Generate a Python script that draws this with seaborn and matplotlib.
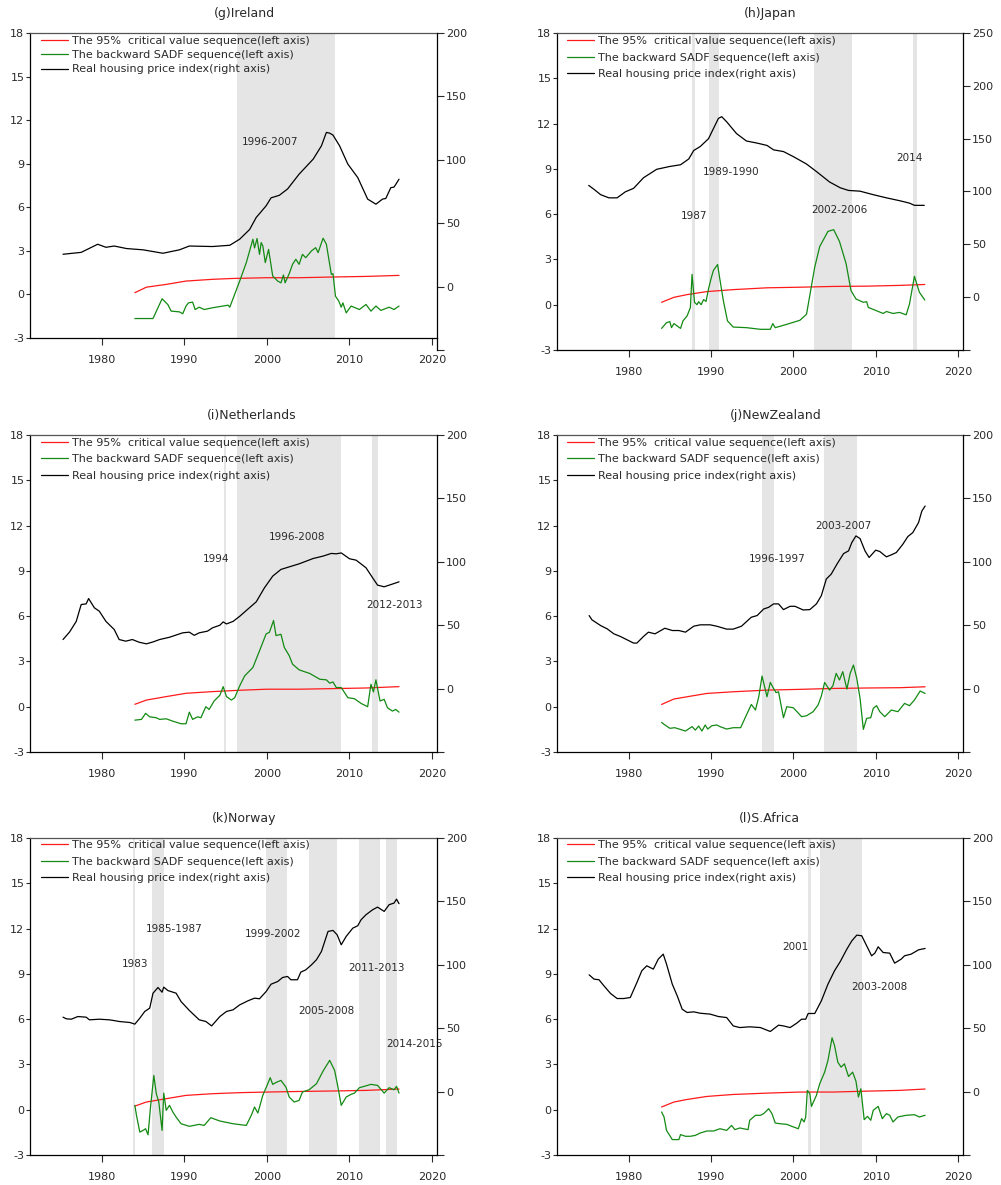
import matplotlib
matplotlib.use("Agg")
import matplotlib.pyplot as plt
from matplotlib.lines import Line2D
import seaborn as sns

sns.set_theme(style="white")
plt.rcParams['font.family'] = ['DejaVu Sans']

# ---------------- DATA ----------------
legend_labels = ["The 95%  critical value sequence(left axis)",
                 "The backward SADF sequence(left axis)",
                 "Real housing price index(right axis)"]
left_ticks = [-3, 0, 3, 6, 9, 12, 15, 18]
x_ticks = [1980, 1990, 2000, 2010, 2020]

# (g) Ireland
ie_hpi_year = [1975.3, 1977.5, 1979.5, 1980.5, 1981.5, 1983.0, 1985.0, 1987.4, 1989.4, 1990.6, 1993.4, 1995.5,
               1996.7, 1997.9, 1998.7, 1999.9, 2000.5, 2001.5, 2002.5, 2003.9, 2005.6, 2006.6, 2007.2, 2007.6,
               2008.0, 2008.8, 2009.8, 2011.0, 2012.2, 2013.2, 2014.0, 2014.4, 2015.0, 2015.4, 2016.0]
ie_hpi = [25.5, 27, 33.4, 31, 32, 30, 29, 26.3, 29, 32, 31.6, 32.6,
          37.4, 45, 54.5, 63.7, 70, 72, 77, 88.7, 100.5, 111, 121.6, 121.0,
          119.5, 111, 96.6, 86, 69, 65, 69, 69.5, 78, 78.5, 84.7]
ie_sadf_year = [1984.0, 1986.2, 1987.3, 1988.0, 1988.4, 1989.4, 1989.8, 1990.2, 1990.5, 1991.0, 1991.3, 1991.8,
                1992.4, 1993.4, 1995.3, 1995.5, 1996.7, 1997.5, 1998.3, 1998.5, 1998.8, 1999.1, 1999.3, 1999.5,
                1999.8, 2000.2, 2000.7, 2001.3, 2001.7, 2002.0, 2002.2, 2002.7, 2003.1, 2003.5, 2003.9, 2004.3,
                2004.7, 2005.4, 2005.9, 2006.2, 2006.8, 2007.2, 2007.8, 2008.0, 2008.3, 2008.7, 2009.0, 2009.2,
                2009.6, 2010.2, 2011.2, 2012.0, 2012.6, 2013.2, 2013.8, 2014.8, 2015.4, 2016.0]
ie_sadf = [-1.66, -1.66, -0.3, -0.7, -1.15, -1.2, -1.33, -0.8, -0.58, -0.53, -1.04, -0.88,
           -1.04, -0.92, -0.74, -0.88, 0.92, 2.19, 3.8, 3.2, 3.85, 2.76, 3.57, 3.34,
           2.19, 3.1, 1.27, 0.92, 0.8, 1.34, 0.8, 1.43, 2.07, 2.42, 2.07, 2.76,
           2.53, 3.0, 3.22, 2.88, 3.87, 3.46, 1.38, 1.43, -0.12, -0.46, -0.88, -0.58,
           -1.27, -0.8, -1.04, -0.69, -1.15, -0.8, -1.1, -0.88, -1.04, -0.8]
ie_cv_year = [1984.0, 1985.4, 1987.8, 1990.2, 1993.4, 1995.9, 1999.9, 2003.9, 2008.0, 2012.0, 2016.0]
ie_cv = [0.12, 0.5, 0.69, 0.92, 1.04, 1.1, 1.15, 1.15, 1.2, 1.24, 1.31]
ie_bubbles = [(1996.35, 2008.26)]
ie_notes = [("1996-2007", 2000.4, 10.5)]

# (h) Japan
jp_hpi_year = [1975.15, 1975.8, 1976.6, 1977.6, 1978.6, 1979.6, 1980.6, 1981.8, 1983.4, 1985.0, 1986.3, 1987.3,
               1987.9, 1988.7, 1989.7, 1990.3, 1990.9, 1991.3, 1991.9, 1993.1, 1994.3, 1995.6, 1996.8, 1997.6,
               1998.8, 2000.0, 2001.6, 2002.8, 2004.4, 2005.7, 2006.7, 2008.1, 2009.7, 2011.3, 2012.9, 2014.1,
               2014.7, 2015.9]
jp_hpi = [105.8, 102, 97, 94, 94, 99.7, 103, 113, 121, 123.7, 125.3, 130.8,
          138.8, 142.6, 150, 159.6, 169.2, 170.8, 166, 154.8, 147.8, 145.8, 143.6, 139.4,
          137.8, 133, 126, 118.9, 109, 103.5, 101, 100.3, 97, 94, 91.3, 89,
          86.9, 86.9]
jp_sadf_year = [1984.0, 1984.6, 1985.0, 1985.2, 1985.5, 1985.9, 1986.3, 1986.6, 1987.1, 1987.5, 1987.7, 1988.0,
                1988.3, 1988.5, 1988.8, 1989.1, 1989.4, 1989.7, 1990.0, 1990.3, 1990.8, 1991.1, 1991.5, 1992.0,
                1992.7, 1994.3, 1996.0, 1997.2, 1997.5, 1997.8, 1999.2, 2000.8, 2001.6, 2002.1, 2002.6, 2003.2,
                2004.2, 2004.9, 2005.6, 2006.4, 2007.0, 2007.6, 2008.5, 2008.9, 2009.1, 2010.1, 2010.9, 2011.3,
                2012.1, 2012.9, 2013.7, 2014.1, 2014.7, 2015.3, 2015.96]
jp_sadf = [-1.57, -1.19, -1.12, -1.52, -1.25, -1.41, -1.57, -1.07, -0.74, -0.18, 2.01, 0.16,
           0.0, 0.2, 0.0, 0.34, 0.22, 1.05, 1.72, 2.28, 2.66, 1.61, 0.27, -1.07,
           -1.48, -1.52, -1.63, -1.63, -1.25, -1.52, -1.3, -1.03, -0.63, 0.94, 2.5, 3.85,
           4.86, 4.97, 4.19, 2.73, 0.94, 0.38, 0.16, 0.2, -0.18, -0.4, -0.58, -0.45,
           -0.58, -0.51, -0.67, 0.04, 1.88, 0.83, 0.31]
jp_cv_year = [1984.0, 1985.5, 1987.1, 1989.5, 1992.7, 1996.8, 2000.8, 2004.8, 2008.9, 2012.9, 2015.96]
jp_cv = [0.16, 0.49, 0.67, 0.87, 1.0, 1.12, 1.16, 1.21, 1.23, 1.28, 1.34]
jp_bubbles = [(1987.7, 1988.0), (1989.7, 1991.0), (2002.5, 2007.1), (2014.5, 2015.0)]
jp_notes = [("1987", 1988.0, 5.9), ("1989-1990", 1992.4, 8.82), ("2002-2006", 2005.6, 6.27), ("2014", 2014.06, 9.74)]

# (i) Netherlands
nl_hpi_year = [1975.3, 1976.1, 1976.9, 1977.5, 1978.1, 1978.4, 1979.1, 1979.7, 1980.5, 1981.5, 1982.1, 1982.9,
               1983.7, 1984.5, 1985.4, 1986.2, 1987.0, 1988.2, 1989.8, 1990.6, 1991.2, 1991.8, 1992.8, 1993.4,
               1994.3, 1994.7, 1995.1, 1995.9, 1996.7, 1997.5, 1998.7, 1999.7, 2000.7, 2001.7, 2002.7, 2003.9,
               2005.6, 2006.8, 2007.8, 2008.4, 2009.0, 2010.0, 2010.8, 2012.0, 2012.8, 2013.4, 2014.2, 2015.0,
               2016.0]
nl_hpi = [38.7, 44.7, 53, 66.3, 66.8, 71, 63.7, 61, 53, 46.6, 38.7, 37.4,
          38.7, 36.6, 35.3, 36.8, 38.7, 40.5, 44, 44.5, 42, 44, 45.3, 47.9,
          50, 52.6, 51, 53, 57, 61.6, 68.4, 79.5, 88.7, 94, 96, 98.4,
          102.6, 104.5, 106.6, 106.3, 107, 102.4, 101.3, 95.3, 87.4, 81.6, 80.3, 82,
          84.2]
nl_sadf_year = [1984.0, 1984.8, 1985.3, 1985.8, 1986.6, 1987.0, 1987.8, 1988.6, 1989.6, 1990.2, 1990.6, 1991.0,
                1991.6, 1992.0, 1992.3, 1992.6, 1993.0, 1993.6, 1994.3, 1994.7, 1995.1, 1995.7, 1996.1, 1996.7,
                1997.3, 1998.3, 1999.1, 1999.9, 2000.3, 2000.8, 2001.1, 2001.7, 2002.1, 2002.7, 2003.1, 2003.9,
                2005.2, 2006.4, 2007.2, 2007.6, 2008.0, 2008.4, 2009.0, 2009.8, 2010.6, 2011.4, 2012.2, 2012.6,
                2012.9, 2013.2, 2013.7, 2014.2, 2014.6, 2015.2, 2015.6, 2016.0]
nl_sadf = [-0.89, -0.84, -0.44, -0.67, -0.73, -0.84, -0.8, -0.96, -1.13, -1.13, -0.36, -0.84,
           -0.67, -0.73, -0.36, 0.0, -0.18, 0.38, 0.76, 1.33, 0.67, 0.44, 0.6, 1.38,
           2.04, 2.6, 3.7, 4.82, 4.93, 5.71, 4.71, 4.8, 3.93, 3.38, 2.82, 2.44,
           2.2, 1.82, 1.78, 1.56, 1.64, 1.27, 1.27, 0.6, 0.53, 0.22, 0.0, 1.49,
           0.98, 1.78, 0.38, 0.49, -0.07, -0.29, -0.18, -0.36]
nl_cv_year = [1984.0, 1985.4, 1987.8, 1990.2, 1993.4, 1996.7, 2000.0, 2004.0, 2008.0, 2012.0, 2016.0]
nl_cv = [0.16, 0.44, 0.67, 0.89, 1.0, 1.09, 1.16, 1.16, 1.2, 1.24, 1.33]
nl_bubbles = [(1994.74, 1995.1), (1996.4, 2009.0), (2012.74, 2013.5)]
nl_notes = [("1994", 1993.85, 9.78), ("1996-2008", 2003.66, 11.27), ("2012-2013", 2015.45, 6.71)]

# (j) New Zealand
nz_hpi_year = [1975.2, 1975.55, 1976.6, 1977.4, 1978.2, 1979.0, 1979.8, 1980.6, 1981.0, 1981.8, 1982.4, 1983.2,
               1984.4, 1985.3, 1986.1, 1986.9, 1987.9, 1988.7, 1989.9, 1990.7, 1991.9, 1992.7, 1993.7, 1994.9,
               1995.6, 1996.4, 1997.0, 1997.6, 1998.2, 1998.8, 1999.6, 2000.2, 2001.2, 2002.0, 2002.8, 2003.4,
               2004.0, 2004.6, 2005.3, 2006.1, 2006.7, 2007.1, 2007.6, 2008.1, 2008.7, 2009.2, 2010.0, 2010.5,
               2011.3, 2011.9, 2012.5, 2013.3, 2013.9, 2014.5, 2015.2, 2015.6, 2016.0]
nz_hpi = [57.6, 54.2, 49.7, 47.1, 43.2, 41.1, 38.5, 35.9, 35.9, 41.1, 44.5, 43.2,
          47.6, 45.8, 45.8, 44.5, 49.2, 50.3, 50.3, 49.2, 46.9, 46.9, 49.2, 56.3,
          57.6, 62.8, 64.1, 66.8, 66.8, 62.3, 64.9, 64.9, 62, 62.3, 66.8, 73.3,
          86.4, 90.3, 98.2, 106.5, 108.6, 115.2, 120.4, 118.3, 108.6, 103.4, 109.2, 108.1,
          103.9, 105.5, 107.3, 113.9, 119.9, 123, 130.9, 140, 144]
nz_sadf_year = [1984.0, 1984.3, 1985.0, 1985.6, 1986.9, 1987.7, 1988.1, 1988.5, 1988.9, 1989.3, 1989.6, 1990.1,
                1990.7, 1991.1, 1991.9, 1992.7, 1993.6, 1994.3, 1994.9, 1995.4, 1995.8, 1996.2, 1996.8, 1997.2,
                1997.6, 1997.9, 1998.2, 1998.8, 1999.2, 2000.0, 2001.0, 2001.6, 2002.4, 2003.0, 2003.4, 2003.8,
                2004.4, 2004.8, 2005.2, 2005.6, 2006.0, 2006.5, 2006.9, 2007.3, 2007.7, 2008.1, 2008.5, 2008.9,
                2009.4, 2009.7, 2010.1, 2010.5, 2011.1, 2011.9, 2012.7, 2013.5, 2014.1, 2014.7, 2015.4, 2016.0]
nz_sadf = [-1.04, -1.17, -1.43, -1.39, -1.61, -1.32, -1.55, -1.28, -1.61, -1.21, -1.48, -1.26,
           -1.21, -1.32, -1.48, -1.39, -1.39, -0.55, 0.15, -0.22, 0.66, 2.03, 0.66, 1.61,
           1.21, 0.93, 0.99, -0.73, 0.0, -0.07, -0.66, -0.6, -0.33, 0.11, 0.71, 1.61,
           1.1, 1.39, 2.21, 1.77, 2.32, 1.17, 2.21, 2.76, 1.88, 0.55, -1.5, -0.77,
           -0.73, -0.11, 0.07, -0.33, -0.66, -0.22, -0.33, 0.22, 0.07, 0.44, 1.04, 0.88]
nz_cv_year = [1984.0, 1985.5, 1987.1, 1989.5, 1992.7, 1996.8, 2000.8, 2004.8, 2008.9, 2012.9, 2016.0]
nz_cv = [0.15, 0.51, 0.66, 0.88, 0.99, 1.1, 1.15, 1.21, 1.24, 1.26, 1.32]
nz_bubbles = [(1996.2, 1997.6), (2003.7, 2007.7)]
nz_notes = [("1996-1997", 1998.0, 9.78), ("2003-2007", 2006.06, 11.99)]

# (k) Norway
no_hpi_year = [1975.3, 1975.7, 1976.3, 1977.1, 1978.1, 1978.5, 1979.7, 1980.9, 1981.5, 1982.1, 1983.4, 1984.0,
               1984.6, 1985.2, 1985.8, 1986.2, 1986.8, 1987.3, 1987.5, 1988.0, 1989.0, 1989.6, 1990.6, 1991.8,
               1992.6, 1993.3, 1994.3, 1995.1, 1995.9, 1996.7, 1997.7, 1998.5, 1999.1, 1999.9, 2000.5, 2001.3,
               2001.9, 2002.5, 2002.9, 2003.7, 2004.1, 2004.7, 2005.4, 2006.0, 2006.6, 2007.4, 2008.0, 2008.5,
               2009.0, 2009.6, 2010.4, 2011.0, 2011.4, 2012.0, 2012.8, 2013.4, 2014.2, 2014.8, 2015.4, 2015.7,
               2016.0]
no_hpi = [58.7, 57.4, 57.1, 59.2, 58.7, 56.6, 57.1, 56.6, 56, 55.3, 54.5, 53.2,
          57.9, 63.2, 65.8, 77.6, 82.1, 78.4, 82.4, 79.7, 77.6, 71, 64, 56.6,
          55.3, 51.8, 59.2, 63.2, 64.5, 68.4, 71.6, 73.7, 73.2, 78.9, 84.7, 86.8,
          90, 90.8, 88.2, 88.2, 94.2, 96, 100, 104, 110.5, 126.3, 127.1, 123.7,
          115.8, 122.4, 128.9, 130.8, 135.5, 139.5, 143.4, 145.5, 142.1, 147.4, 148.7, 151.8,
          148.2]
no_sadf_year = [1984.0, 1984.2, 1984.6, 1985.0, 1985.3, 1985.6, 1985.9, 1986.3, 1986.6, 1986.9, 1987.3, 1987.5,
                1987.8, 1988.2, 1988.6, 1989.0, 1989.6, 1990.6, 1991.8, 1992.4, 1993.2, 1994.3, 1995.9, 1997.5,
                1998.1, 1998.5, 1998.9, 1999.5, 2000.1, 2000.4, 2000.7, 2001.2, 2001.7, 2002.3, 2002.7, 2003.3,
                2003.9, 2004.3, 2005.1, 2006.0, 2006.8, 2007.6, 2008.2, 2008.6, 2009.0, 2009.6, 2010.2, 2010.6,
                2011.2, 2011.8, 2012.6, 2013.4, 2014.2, 2014.8, 2015.4, 2015.7, 2016.0]
no_sadf = [0.29, -0.38, -1.48, -1.37, -1.26, -1.66, 0.18, 2.27, 1.06, 0.51, -1.37, 1.1,
           -0.04, 0.29, -0.15, -0.49, -0.93, -1.1, -0.97, -1.04, -0.53, -0.75, -0.93, -1.04,
           -0.38, 0.18, -0.22, 0.95, 1.72, 2.12, 1.68, 1.83, 1.94, 1.5, 0.84, 0.51,
           0.62, 1.17, 1.32, 1.72, 2.56, 3.27, 2.6, 1.5, 0.29, 0.84, 1.02, 1.1,
           1.46, 1.55, 1.68, 1.61, 1.1, 1.46, 1.32, 1.55, 1.1]
no_cv_year = [1984.0, 1985.4, 1987.8, 1990.2, 1993.4, 1996.7, 2000.0, 2004.0, 2008.0, 2012.0, 2016.0]
no_cv = [0.24, 0.51, 0.73, 0.95, 1.06, 1.13, 1.17, 1.21, 1.24, 1.28, 1.37]
no_bubbles = [(1983.75, 1984.04), (1986.06, 1987.55), (1999.94, 2002.45), (2005.15, 2008.5),
              (2011.2, 2013.7), (2014.47, 2015.77)]
no_notes = [("1983", 1984.08, 9.62), ("1985-1987", 1988.8, 11.94), ("1999-2002", 2000.8, 11.66),
            ("2011-2013", 2013.3, 9.38), ("2005-2008", 2007.25, 6.53), ("2014-2015", 2017.9, 4.33)]

# (l) S.Africa
za_hpi_year = [1975.2, 1975.8, 1976.4, 1977.0, 1977.8, 1978.6, 1979.4, 1980.2, 1981.0, 1981.6, 1982.2, 1983.0,
               1983.6, 1984.2, 1984.6, 1985.3, 1985.9, 1986.5, 1987.1, 1987.9, 1988.7, 1989.9, 1990.9, 1991.9,
               1992.7, 1993.5, 1994.7, 1996.0, 1997.2, 1998.2, 1998.8, 1999.6, 2000.4, 2001.0, 2001.5, 2001.8,
               2002.6, 2003.4, 2004.2, 2005.0, 2005.7, 2006.5, 2007.1, 2007.7, 2008.3, 2008.9, 2009.5, 2009.9,
               2010.3, 2010.9, 2011.7, 2012.3, 2013.1, 2013.5, 2014.3, 2015.2, 2016.0]
za_hpi = [92.1, 88.7, 88.2, 83.4, 77.4, 73.4, 73.4, 74.2, 86, 95.3, 99.2, 96.6,
          104.5, 108.4, 100.5, 84.7, 75.5, 65, 62.4, 62.9, 61.8, 61.1, 59.2, 58.4,
          51.8, 50.5, 51.1, 50.5, 47.4, 52.4, 51.8, 50.5, 53.9, 57.1, 57.1, 61.6,
          61.6, 71.6, 84.7, 95.3, 102.6, 112.4, 118.9, 123.4, 122.9, 115, 107.1, 109.2,
          114.2, 109.7, 109.2, 101.3, 104.5, 107.1, 108.4, 111.8, 112.9]
za_sadf_year = [1984.0, 1984.3, 1984.6, 1985.3, 1986.1, 1986.3, 1986.9, 1987.5, 1988.1, 1988.7, 1989.5, 1990.3,
                1991.1, 1991.9, 1992.5, 1992.9, 1993.5, 1994.5, 1994.7, 1995.4, 1996.0, 1996.4, 1997.0, 1997.4,
                1997.8, 1998.4, 1999.2, 1999.8, 2000.6, 2001.0, 2001.3, 2001.5, 2001.7, 2002.0, 2002.2, 2002.8,
                2003.2, 2003.8, 2004.2, 2004.7, 2005.0, 2005.4, 2005.8, 2006.2, 2006.7, 2007.2, 2007.6, 2007.9,
                2008.2, 2008.6, 2009.0, 2009.4, 2009.7, 2010.3, 2010.8, 2011.3, 2011.7, 2012.1, 2012.7, 2013.7,
                2014.7, 2015.3, 2016.0]
za_sadf = [-0.15, -0.48, -1.37, -1.98, -1.98, -1.65, -1.76, -1.76, -1.7, -1.54, -1.41, -1.41,
           -1.26, -1.37, -1.04, -1.32, -1.21, -1.32, -0.7, -0.37, -0.37, -0.26, 0.07, -0.26,
           -0.88, -0.93, -0.97, -1.1, -1.26, -0.59, -0.81, -0.48, 1.28, 1.06, 0.22, 0.95,
           1.72, 2.49, 3.26, 4.76, 4.25, 3.15, 2.82, 3.04, 2.2, 2.49, 1.89, 0.84,
           1.39, -0.66, -0.44, -0.7, -0.04, 0.22, -0.59, -0.26, -0.37, -0.81, -0.48, -0.37,
           -0.33, -0.48, -0.37]
za_cv_year = [1984.0, 1985.5, 1987.1, 1989.5, 1992.7, 1996.8, 2000.8, 2004.8, 2008.9, 2012.9, 2016.0]
za_cv = [0.18, 0.51, 0.68, 0.88, 1.01, 1.1, 1.17, 1.17, 1.23, 1.28, 1.37]
za_bubbles = [(2001.8, 2002.14), (2003.2, 2008.3)]
za_notes = [("2001", 2000.24, 10.75), ("2003-2008", 2010.5, 8.1)]

# ---------------- LAYOUT ----------------
W, H = 1001, 1185
fig = plt.figure(figsize=(W / 100, H / 100), dpi=100)
fig.patch.set_facecolor("white")

TXT = "#2a2a2a"
SHADE = "#e5e5e5"
XLIM = (1971.3, 2020.6)


def rect(l, t, r, b):
    return [l / W, 1 - b / H, (r - l) / W, (b - t) / H]


panels = [
    dict(title="(g)Ireland", tx=0.528, main=(30, 33, 437, 338), right=(30, 33, 437, 350),
         rlim=(-50, 200), rticks=[-50, 0, 50, 100, 150, 200], ls=0.38, leg=(40.5, 36),
         hy=ie_hpi_year, h=ie_hpi, sy=ie_sadf_year, s=ie_sadf, cy=ie_cv_year, c=ie_cv,
         bub=ie_bubbles, notes=ie_notes),
    dict(title="(h)Japan", tx=0.525, main=(557, 33, 963, 350), right=(557, 33, 963, 350),
         rlim=(-50, 250), rticks=[-50, 0, 50, 100, 150, 200, 250], ls=0.6, leg=(566.5, 36),
         hy=jp_hpi_year, h=jp_hpi, sy=jp_sadf_year, s=jp_sadf, cy=jp_cv_year, c=jp_cv,
         bub=jp_bubbles, notes=jp_notes),
    dict(title="(i)Netherlands", tx=0.545, main=(30, 435, 437, 752), right=(30, 435, 437, 752),
         rlim=(-50, 200), rticks=[-50, 0, 50, 100, 150, 200], ls=0.6, leg=(40.5, 437.5),
         hy=nl_hpi_year, h=nl_hpi, sy=nl_sadf_year, s=nl_sadf, cy=nl_cv_year, c=nl_cv,
         bub=nl_bubbles, notes=nl_notes),
    dict(title="(j)NewZealand", tx=0.538, main=(557, 435, 963, 752), right=(557, 435, 963, 752),
         rlim=(-50, 200), rticks=[-50, 0, 50, 100, 150, 200], ls=0.6, leg=(566.5, 437.5),
         hy=nz_hpi_year, h=nz_hpi, sy=nz_sadf_year, s=nz_sadf, cy=nz_cv_year, c=nz_cv,
         bub=nz_bubbles, notes=nz_notes),
    dict(title="(k)Norway", tx=0.526, main=(30, 838, 437, 1155), right=(30, 838, 437, 1155),
         rlim=(-50, 200), rticks=[-50, 0, 50, 100, 150, 200], ls=0.6, leg=(40.5, 840),
         hy=no_hpi_year, h=no_hpi, sy=no_sadf_year, s=no_sadf, cy=no_cv_year, c=no_cv,
         bub=no_bubbles, notes=no_notes),
    dict(title="(l)S.Africa", tx=0.523, main=(557, 838, 963, 1155), right=(557, 838, 963, 1155),
         rlim=(-50, 200), rticks=[-50, 0, 50, 100, 150, 200], ls=0.6, leg=(566.5, 840),
         hy=za_hpi_year, h=za_hpi, sy=za_sadf_year, s=za_sadf, cy=za_cv_year, c=za_cv,
         bub=za_bubbles, notes=za_notes),
]

for p in panels:
    ax = fig.add_axes(rect(*p["main"]))
    ax.set_facecolor("none")
    ax.set_xlim(*XLIM)
    ax.set_ylim(-3, 18)
    for a, b in p["bub"]:
        ax.axvspan(a, b, color=SHADE, lw=0, zorder=0)
    sns.lineplot(x=p["cy"], y=p["c"], ax=ax, color="#ff1a1a", lw=0.9, estimator=None, sort=False, zorder=3)
    sns.lineplot(x=p["sy"], y=p["s"], ax=ax, color="#138a13", lw=0.9, estimator=None, sort=False, zorder=3)
    for txt, xx, yy in p["notes"]:
        ax.text(xx, yy, txt, ha="center", va="center", fontsize=7.5, color=TXT, zorder=4)
    ax.set_xticks(x_ticks)
    ax.set_yticks(left_ticks)
    ax.set_xticklabels([str(v) for v in x_ticks])
    ax.set_yticklabels([str(v) for v in left_ticks])
    ax.tick_params(axis="x", direction="out", length=5, width=0.8, pad=7, labelsize=8, colors=TXT,
                   bottom=True, top=False)
    ax.tick_params(axis="y", direction="out", length=3, width=0.8, pad=1, labelsize=8, colors=TXT,
                   left=True, right=False)
    for side in ["left", "bottom"]:
        ax.spines[side].set_color("black")
        ax.spines[side].set_linewidth(0.9)
    ax.spines["top"].set_color("#555555")
    ax.spines["top"].set_linewidth(0.9)
    ax.spines["right"].set_visible(False)
    ax.set_xlabel("")
    ax.set_ylabel("")
    ax.annotate(p["title"], xy=(p["tx"], 1), xycoords="axes fraction", xytext=(0, 14),
                textcoords="offset points", ha="center", va="center", fontsize=9, color=TXT)

    ax2 = fig.add_axes(rect(*p["right"]))
    ax2.set_facecolor("none")
    ax2.set_xlim(*XLIM)
    ax2.set_ylim(*p["rlim"])
    sns.lineplot(x=p["hy"], y=p["h"], ax=ax2, color="black", lw=0.9, estimator=None, sort=False, zorder=3)
    ax2.set_xticks([])
    ax2.yaxis.tick_right()
    ax2.set_yticks(p["rticks"])
    ax2.set_yticklabels(["" if v < 0 else str(v) for v in p["rticks"]])
    ax2.tick_params(axis="y", direction="out", length=5, width=0.8, pad=1.5, labelsize=8, colors=TXT,
                    right=True, left=False)
    for side in ["left", "top", "bottom"]:
        ax2.spines[side].set_visible(False)
    ax2.spines["right"].set_color("black")
    ax2.spines["right"].set_linewidth(0.9)
    ax2.set_xlabel("")
    ax2.set_ylabel("")

    handles = [Line2D([], [], color="#ff1a1a", lw=0.9),
               Line2D([], [], color="#138a13", lw=0.9),
               Line2D([], [], color="black", lw=0.9)]
    lx, ly = p["leg"]
    leg = ax2.legend(handles, legend_labels, loc="upper left", bbox_to_anchor=(lx / W, 1 - ly / H),
                     bbox_transform=fig.transFigure, frameon=False, fontsize=8, handlelength=2.5,
                     handletextpad=0.3, borderpad=0, borderaxespad=0, labelspacing=p["ls"])
    for t in leg.get_texts():
        t.set_color(TXT)

fig.savefig("out.png", dpi=100, facecolor="white")
